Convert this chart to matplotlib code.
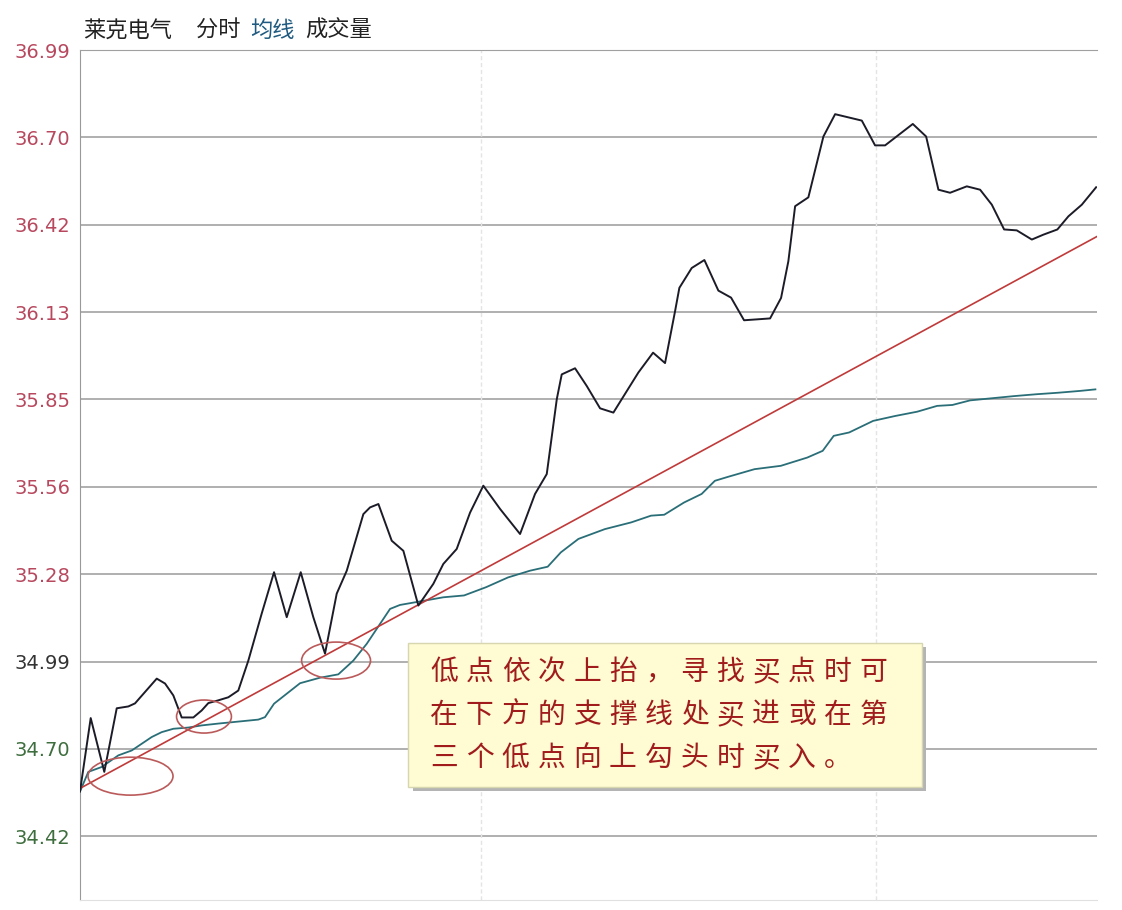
#intraday chart of 莱克电气 with support line drawn under the lows
import matplotlib
matplotlib.use('Agg')
import matplotlib.pyplot as plt
from matplotlib.patches import Ellipse, Rectangle

plt.rcParams['font.family'] = ['Noto Sans CJK SC', 'DejaVu Sans']

#time index (minutes from open) and price of the 分时 line
price_t = [0, 1.6, 3.63, 5.49, 7.22, 8.22, 11.47, 12.71, 13.95, 15.2, 16.94, 18.19, 19.18, 20.67,
           22.17, 23.66, 25.16, 27.16, 29.0, 30.9, 32.99, 34.87, 36.62, 38.37, 39.87, 42.35, 43.35,
           44.6, 46.59, 48.33, 50.57, 52.81, 54.3, 56.3, 58.3, 60.28, 62.78, 65.77, 68.01, 69.76,
           71.26, 72.0, 73.99, 75.74, 77.73, 79.72, 80.97, 83.45, 85.65, 87.44, 88.94, 89.58, 91.43,
           93.32, 95.41, 97.31, 99.25, 103.14, 104.78, 105.87, 106.88, 108.86, 111.11, 112.86,
           116.85, 118.83, 120.33, 124.47, 126.46, 128.3, 130.04, 132.54, 134.53, 136.28, 138.12,
           140.01, 142.26, 143.99, 146.08, 147.73, 149.73, 151.87]
price = [34.565, 34.805, 34.629, 34.837, 34.843, 34.853, 34.934, 34.918, 34.879, 34.807, 34.807,
         34.83, 34.854, 34.863, 34.873, 34.895, 34.993, 35.147, 35.282, 35.135, 35.282, 35.135,
         35.016, 35.212, 35.287, 35.472, 35.494, 35.505, 35.385, 35.352, 35.173, 35.244, 35.309,
         35.358, 35.477, 35.565, 35.489, 35.407, 35.538, 35.603, 35.848, 35.929, 35.949, 35.891,
         35.818, 35.804, 35.848, 35.935, 36.0, 35.966, 36.136, 36.212, 36.277, 36.303, 36.203,
         36.18, 36.106, 36.112, 36.179, 36.299, 36.479, 36.508, 36.707, 36.78, 36.759, 36.678,
         36.678, 36.748, 36.707, 36.533, 36.523, 36.544, 36.533, 36.484, 36.403, 36.40, 36.37,
         36.386, 36.403, 36.446, 36.484, 36.541]

#均线 (average price)
avg_t = [0, 1.24, 3.24, 5.73, 7.73, 10.72, 12.21, 13.95, 16.19, 18.19, 20.67, 26.65, 27.65, 29.0,
         32.89, 35.87, 38.61, 40.85, 42.86, 46.34, 47.83, 51.48, 54.3, 57.4, 60.69, 63.98, 67.26,
         69.9, 71.87, 74.5, 78.45, 82.39, 85.35, 87.32, 90.28, 92.91, 94.89, 96.86, 100.81, 104.75,
         108.7, 111.0, 112.65, 114.95, 118.55, 121.84, 125.13, 128.1, 130.39, 133.03, 136.32,
         139.61, 142.9, 146.19, 149.48, 151.76]
avg = [34.565, 34.629, 34.645, 34.683, 34.699, 34.743, 34.759, 34.770, 34.774, 34.781, 34.787,
       34.800, 34.808, 34.852, 34.919, 34.937, 34.948, 34.993, 35.048, 35.162, 35.175, 35.189,
       35.2, 35.206, 35.233, 35.265, 35.287, 35.3, 35.347, 35.391, 35.423, 35.445, 35.467, 35.47,
       35.51, 35.538, 35.581, 35.594, 35.619, 35.63, 35.657, 35.679, 35.728, 35.739, 35.777,
       35.793, 35.807, 35.826, 35.829, 35.844, 35.851, 35.858, 35.864, 35.869, 35.875, 35.88]

#support line
support_t = [0, 152]
support = [34.575, 36.38]

#y ticks, previous close in the middle
prev_close = 34.99
step = 0.2857
tick_vals = [prev_close + k * step for k in range(-2, 8)]

#circled lows: centre t, centre price, width, height
circles = [(7.55, 34.615, 12.7, 0.124), (18.53, 34.810, 8.2, 0.108), (38.27, 34.993, 10.3, 0.121)]

note_lines = ['低点依次上抬，寻找买点时可', '在下方的支撑线处买进或在第', '三个低点向上勾头时买入。']

W, H = 1122, 910
fig = plt.figure(figsize=(W / 100, H / 100), dpi=100)
fig.patch.set_facecolor('white')
ax = fig.add_axes([80 / W, 10 / H, 1017 / W, 850 / H])

ax.set_xlim(0, 152)
ax.set_ylim(34.21, tick_vals[-1])

#grid
for v in tick_vals[:-1]:
    ax.axhline(v, color='#9a9a9a', lw=1.1, zorder=1)
for v in [60, 119]:
    ax.axvline(v, color='#e4e4e4', lw=1, ls=(0, (3, 2)), zorder=1)

ax.plot(avg_t, avg, color='#2a6e78', lw=1.3, zorder=3)
ax.plot(support_t, support, color='#c03a3a', lw=1.2, zorder=4)
ax.plot(price_t, price, color='#1c1c28', lw=1.4, zorder=5)

for cx, cy, w, h in circles:
    ax.add_patch(Ellipse((cx, cy), w, h, fill=False, ec='#bb5a5a', lw=1.2, zorder=6))

ax.set_xticks([])
ax.set_yticks(tick_vals)
ax.set_yticklabels(['%.2f' % v for v in tick_vals], family='DejaVu Sans', fontsize=14)
for lab, v in zip(ax.get_yticklabels(), tick_vals):
    if v > prev_close + 0.01:
        lab.set_color('#b8485e')
    elif v < prev_close - 0.01:
        lab.set_color('#3e6e3e')
    else:
        lab.set_color('#333333')
ax.tick_params(axis='y', length=0, pad=7)

ax.spines['right'].set_visible(False)
ax.spines['left'].set_color('#999999')
ax.spines['top'].set_color('#a0a0a0')
ax.spines['bottom'].set_color('#e0e0e0')

#title row
fig.text(83 / W, 1 - 30 / H, '莱克电气', fontsize=16, color='#222222', va='center')
fig.text(196 / W, 1 - 30 / H, '分时', fontsize=16, color='#222222', va='center')
fig.text(250 / W, 1 - 30 / H, '均线', fontsize=16, color='#1f5a80', va='center')
fig.text(305 / W, 1 - 30 / H, '成交量', fontsize=16, color='#222222', va='center')

#note box with shadow
fig.patches.append(Rectangle((413 / W, 1 - 791 / H), 513 / W, 144 / H, transform=fig.transFigure,
                             fc='#b4b4b4', ec='none', zorder=7))
fig.patches.append(Rectangle((408 / W, 1 - 787 / H), 514 / W, 144 / H, transform=fig.transFigure,
                             fc='#fffbd2', ec='#d6d6b0', lw=1, zorder=8))
for i, line in enumerate(note_lines):
    y = 1 - (672 + i * 43) / H
    for j, ch in enumerate(line):
        fig.text((430 + j * 35.8) / W, y, ch, fontsize=20, color='#a01c1c', va='center', zorder=9)

plt.savefig('out.png', dpi=100)
